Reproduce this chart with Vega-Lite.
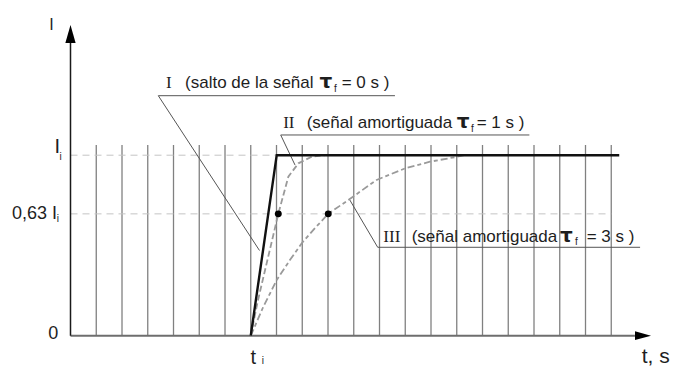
{
  "$schema": "https://vega.github.io/schema/vega-lite/v6.json",
  "width": 673,
  "height": 367,
  "autosize": {"type": "none"},
  "padding": 0,
  "background": "white",
  "config": {"view": {"stroke": null}},
  "data": {"values": [{"k": 0}]},
  "datasets": {
    "grid": [{"t":1},{"t":2},{"t":3},{"t":4},{"t":5},{"t":6},{"t":7},{"t":8},{"t":9},{"t":10},{"t":11},{"t":12},{"t":13},{"t":14},{"t":15},{"t":16},{"t":17},{"t":18},{"t":19},{"t":20},{"t":21}],
    "levels": [{"I":1},{"I":0.675}],
    "curves": [
      {"curve":"I","t":7,"I":0},{"curve":"I","t":8.008,"I":1},{"curve":"I","t":21.31,"I":1},
      {"curve":"II","t":7,"I":0},{"curve":"II","t":7.27,"I":0.19},{"curve":"II","t":7.55,"I":0.36},{"curve":"II","t":8.07,"I":0.675},{"curve":"II","t":8.46,"I":0.881},{"curve":"II","t":8.85,"I":0.955},{"curve":"II","t":9.37,"I":0.992},{"curve":"II","t":9.9,"I":1.0},
      {"curve":"III","t":7,"I":0},{"curve":"III","t":7.49,"I":0.161},{"curve":"III","t":8.01,"I":0.309},{"curve":"III","t":8.52,"I":0.419},{"curve":"III","t":8.98,"I":0.512},{"curve":"III","t":9.5,"I":0.597},{"curve":"III","t":10.01,"I":0.675},{"curve":"III","t":10.83,"I":0.756},{"curve":"III","t":11.89,"I":0.863},{"curve":"III","t":12.99,"I":0.927},{"curve":"III","t":13.96,"I":0.964},{"curve":"III","t":14.97,"I":0.99},{"curve":"III","t":15.3,"I":1.0}
    ],
    "dots": [{"t":8.07,"I":0.675},{"t":10.01,"I":0.675}],
    "callouts": [
      {"c":"I","o":0,"t":12.6,"I":1.3296},{"c":"I","o":1,"t":3.41,"I":1.3296},{"c":"I","o":2,"t":7.34,"I":0.472},
      {"c":"II","o":0,"t":17.82,"I":1.112},{"c":"II","o":1,"t":8.163,"I":1.112},{"c":"II","o":2,"t":8.718,"I":0.946},
      {"c":"III","o":0,"t":22.12,"I":0.4898},{"c":"III","o":1,"t":11.93,"I":0.4898},{"c":"III","o":2,"t":10.83,"I":0.7557}
    ],
    "roman": [{"t":3.709,"I":1.375,"s":"I"},{"t":8.26,"I":1.149,"s":"II"},{"t":12.148,"I":0.521,"s":"III"}],
    "body": [
      {"t":4.447,"I":1.375,"s":"(salto de la señal"},{"t":10.532,"I":1.375,"s":"= 0 s )"},
      {"t":9.173,"I":1.149,"s":"(señal amortiguada"},{"t":15.775,"I":1.149,"s":"= 1 s )"},
      {"t":13.25,"I":0.521,"s":"(señal amortiguada"},{"t":20.047,"I":0.521,"s":"= 3 s )"}
    ],
    "tau": [{"t":9.67,"I":1.375,"s":"τ"},{"t":14.998,"I":1.149,"s":"τ"},{"t":19.01,"I":0.521,"s":"τ"}],
    "sub": [
      {"t":10.233,"I":1.352,"s":"f"},{"t":15.553,"I":1.127,"s":"f"},{"t":19.592,"I":0.501,"s":"f"},
      {"t":-0.427,"I":0.9735,"s":"i"},{"t":-0.536,"I":0.63,"s":"i"},{"t":7.43,"I":-0.155,"s":"i"}
    ],
    "lab15": [{"t":-0.738,"I":1.696,"s":"I"}],
    "lab18l": [{"t":-2.272,"I":0.6449,"s":"0,63 I"}],
    "lab18r": [{"t":-0.474,"I":-0.0199,"s":"0"}],
    "lab20": [{"t":-0.621,"I":1.0105,"s":"I"},{"t":6.99,"I":-0.155,"s":"t"}],
    "lab21": [{"t":22.18,"I":-0.151,"s":"t, s"}]
  },
  "layer": [
    {"data": {"name": "grid"}, "mark": {"type": "rule", "color": "#808080", "strokeWidth": 1.3},
     "encoding": {
       "x": {"field": "t", "type": "quantitative", "scale": {"domain": [-2.738, 23.398], "nice": false, "zero": false}, "axis": null},
       "y": {"datum": 0, "type": "quantitative", "scale": {"domain": [-0.1734, 1.8598], "nice": false, "zero": false}, "axis": null},
       "y2": {"datum": 1.0565}}},
    {"data": {"name": "levels"}, "mark": {"type": "rule", "color": "#c4c4c4", "strokeWidth": 1, "strokeDash": [7, 5]},
     "encoding": {"x": {"datum": 0}, "x2": {"datum": 21}, "y": {"field": "I", "type": "quantitative"}}},
    {"mark": {"type": "rule", "color": "#6e6e6e", "strokeWidth": 2},
     "encoding": {"x": {"datum": 0}, "x2": {"datum": 21.92}, "y": {"datum": 0}}},
    {"mark": {"type": "rule", "color": "#1a1a1a", "strokeWidth": 1.5},
     "encoding": {"x": {"datum": 0}, "y": {"datum": 0}, "y2": {"datum": 1.6216}}},
    {"mark": {"type": "point", "filled": true, "color": "#000", "opacity": 1, "strokeWidth": 0, "shape": "M0,-1L0.57,1L-0.57,1Z", "size": 324},
     "encoding": {"x": {"datum": 0}, "y": {"datum": 1.6715}}},
    {"mark": {"type": "point", "filled": true, "color": "#000", "opacity": 1, "strokeWidth": 0, "shape": "M1,0L-1,-0.55L-1,0.55Z", "size": 256},
     "encoding": {"x": {"datum": 22.233}, "y": {"datum": 0}}},
    {"data": {"name": "callouts"}, "mark": {"type": "line", "color": "#555", "strokeWidth": 1},
     "encoding": {"x": {"field": "t", "type": "quantitative"}, "y": {"field": "I", "type": "quantitative"}, "detail": {"field": "c"}, "order": {"field": "o"}}},
    {"data": {"name": "curves"}, "transform": [{"filter": "datum.curve === 'III'"}], "mark": {"type": "line", "color": "#9a9a9a", "strokeWidth": 1.8, "strokeDash": [7, 3, 4, 3]},
     "encoding": {"x": {"field": "t", "type": "quantitative"}, "y": {"field": "I", "type": "quantitative"}}},
    {"data": {"name": "curves"}, "transform": [{"filter": "datum.curve === 'II'"}], "mark": {"type": "line", "color": "#9a9a9a", "strokeWidth": 1.8, "strokeDash": [6, 3]},
     "encoding": {"x": {"field": "t", "type": "quantitative"}, "y": {"field": "I", "type": "quantitative"}}},
    {"data": {"name": "curves"}, "transform": [{"filter": "datum.curve === 'I'"}], "mark": {"type": "line", "color": "#111", "strokeWidth": 2.4},
     "encoding": {"x": {"field": "t", "type": "quantitative"}, "y": {"field": "I", "type": "quantitative"}}},
    {"data": {"name": "dots"}, "mark": {"type": "point", "filled": true, "color": "#000", "opacity": 1, "size": 48},
     "encoding": {"x": {"field": "t", "type": "quantitative"}, "y": {"field": "I", "type": "quantitative"}}},
    {"data": {"name": "roman"}, "mark": {"type": "text", "font": "Liberation Serif", "fontSize": 17, "align": "left", "baseline": "alphabetic", "color": "#1e1e1e"},
     "encoding": {"x": {"field": "t", "type": "quantitative"}, "y": {"field": "I", "type": "quantitative"}, "text": {"field": "s"}}},
    {"data": {"name": "body"}, "mark": {"type": "text", "font": "Liberation Sans", "fontSize": 17, "align": "left", "baseline": "alphabetic", "color": "#1e1e1e"},
     "encoding": {"x": {"field": "t", "type": "quantitative"}, "y": {"field": "I", "type": "quantitative"}, "text": {"field": "s"}}},
    {"data": {"name": "tau"}, "mark": {"type": "text", "font": "DejaVu Sans", "fontWeight": "bold", "fontSize": 20, "align": "left", "baseline": "alphabetic", "color": "#1e1e1e"},
     "encoding": {"x": {"field": "t", "type": "quantitative"}, "y": {"field": "I", "type": "quantitative"}, "text": {"field": "s"}}},
    {"data": {"name": "sub"}, "mark": {"type": "text", "font": "Liberation Sans", "fontSize": 10, "align": "left", "baseline": "alphabetic", "color": "#1e1e1e"},
     "encoding": {"x": {"field": "t", "type": "quantitative"}, "y": {"field": "I", "type": "quantitative"}, "text": {"field": "s"}}},
    {"data": {"name": "lab15"}, "mark": {"type": "text", "font": "Liberation Sans", "fontSize": 16, "align": "center", "baseline": "alphabetic", "color": "#1e1e1e"},
     "encoding": {"x": {"field": "t", "type": "quantitative"}, "y": {"field": "I", "type": "quantitative"}, "text": {"field": "s"}}},
    {"data": {"name": "lab18l"}, "mark": {"type": "text", "font": "Liberation Sans", "fontSize": 18, "align": "left", "baseline": "alphabetic", "color": "#1e1e1e"},
     "encoding": {"x": {"field": "t", "type": "quantitative"}, "y": {"field": "I", "type": "quantitative"}, "text": {"field": "s"}}},
    {"data": {"name": "lab18r"}, "mark": {"type": "text", "font": "Liberation Sans", "fontSize": 18, "align": "right", "baseline": "alphabetic", "color": "#1e1e1e"},
     "encoding": {"x": {"field": "t", "type": "quantitative"}, "y": {"field": "I", "type": "quantitative"}, "text": {"field": "s"}}},
    {"data": {"name": "lab20"}, "mark": {"type": "text", "font": "Liberation Sans", "fontSize": 20, "align": "left", "baseline": "alphabetic", "color": "#1e1e1e"},
     "encoding": {"x": {"field": "t", "type": "quantitative"}, "y": {"field": "I", "type": "quantitative"}, "text": {"field": "s"}}},
    {"data": {"name": "lab21"}, "mark": {"type": "text", "font": "Liberation Sans", "fontSize": 21, "align": "left", "baseline": "alphabetic", "color": "#1e1e1e"},
     "encoding": {"x": {"field": "t", "type": "quantitative"}, "y": {"field": "I", "type": "quantitative"}, "text": {"field": "s"}}}
  ]
}
